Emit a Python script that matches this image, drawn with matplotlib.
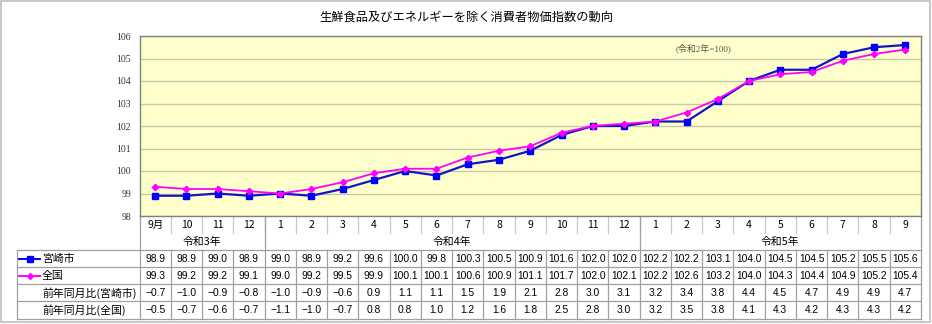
import matplotlib
matplotlib.use("Agg")
import matplotlib.pyplot as plt
from matplotlib.transforms import blended_transform_factory
from matplotlib.lines import Line2D
from matplotlib.patches import Rectangle

# ---------------- data ----------------
months = ['9月', '10', '11', '12',
          '1', '2', '3', '4', '5', '6', '7', '8', '9', '10', '11', '12',
          '1', '2', '3', '4', '5', '6', '7', '8', '9']
years = ['令和3年', '令和4年', '令和5年']
year_counts = [4, 12, 9]
miyazaki = [98.9, 98.9, 99.0, 98.9,
            99.0, 98.9, 99.2, 99.6, 100.0, 99.8, 100.3, 100.5, 100.9, 101.6, 102.0, 102.0,
            102.2, 102.2, 103.1, 104.0, 104.5, 104.5, 105.2, 105.5, 105.6]
national = [99.3, 99.2, 99.2, 99.1,
            99.0, 99.2, 99.5, 99.9, 100.1, 100.1, 100.6, 100.9, 101.1, 101.7, 102.0, 102.1,
            102.2, 102.6, 103.2, 104.0, 104.3, 104.4, 104.9, 105.2, 105.4]
yoy_miyazaki = [-0.7, -1.0, -0.9, -0.8,
                -1.0, -0.9, -0.6, 0.9, 1.1, 1.1, 1.5, 1.9, 2.1, 2.8, 3.0, 3.1,
                3.2, 3.4, 3.8, 4.4, 4.5, 4.7, 4.9, 4.9, 4.7]
yoy_national = [-0.5, -0.7, -0.6, -0.7,
                -1.1, -1.0, -0.7, 0.8, 0.8, 1.0, 1.2, 1.6, 1.8, 2.5, 2.8, 3.0,
                3.2, 3.5, 3.8, 4.1, 4.3, 4.2, 4.3, 4.3, 4.2]
series_names = ['宮崎市', '全国']
row_labels = ['前年同月比(宮崎市)', '前年同月比(全国)']
yticks = [98, 99, 100, 101, 102, 103, 104, 105, 106]
title = '生鮮食品及びエネルギーを除く消費者物価指数の動向'
note = '(令和2年=100)'

# ---------------- style ----------------
W, H = 932, 324
CJK = ['Noto Sans CJK JP', 'DejaVu Sans']
NUM = ['Liberation Sans', 'Noto Sans CJK JP']
SERIF = ['Liberation Serif', 'Noto Sans CJK JP']
BLUE_L, BLUE_M = '#1414C8', '#0000FF'
MAG = '#FF00FF'
GRID_C = '#A0A0A0'

fig = plt.figure(figsize=(W / 100, H / 100), dpi=100)
fig.patch.set_facecolor('white')

# overlay axes in pixel coordinates
ov = fig.add_axes([0, 0, 1, 1], zorder=0)
ov.set_xlim(0, W)
ov.set_ylim(H, 0)
ov.axis('off')

L, R, T, B = 139.5, 921, 36, 216
ax = fig.add_axes([L / W, 1 - B / H, (R - L) / W, (B - T) / H], zorder=2)
ax.set_facecolor('#FFFFCC')
n = len(months)
x = list(range(n))
ax.plot(x, miyazaki, color=BLUE_L, lw=1.6, marker='s', ms=4.8,
        mfc=BLUE_M, mec=BLUE_M, zorder=3)
ax.plot(x, national, color=MAG, lw=1.3, marker='D', ms=3.2,
        mfc=MAG, mec=MAG, zorder=4)
ax.set_xlim(-0.5, n - 0.5)
ax.set_ylim(98, 106)
ax.set_yticks(yticks)
ax.set_yticklabels([str(v) for v in yticks], fontfamily=SERIF, fontsize=7,
                   color='#333333')
ax.tick_params(axis='y', length=0, pad=6)
ax.set_xticks([])
ax.grid(axis='y', color='#C8C8A8', lw=1.0)
ax.set_axisbelow(True)
for s in ax.spines.values():
    s.set_color('#808080')
    s.set_linewidth(1.0)
ax.text(0.722, 0.93, note, transform=ax.transAxes, ha='center', va='center',
        fontsize=6.5, family=SERIF, color='#555555')

fig.text(466 / W, 1 - 17 / H, title, ha='center', va='center',
         fontsize=8.8, family=CJK, color='black')

# outer frame
ov.add_patch(Rectangle((1, 1), 929, 321, fill=False, ec='#BDBDBD', lw=1.2))

# table with x in category coords, y in pixels
tr = blended_transform_factory(ax.transData, ov.transData)
y_month = (216, 233)
y_year = (233, 250)
rows_y = [250, 267, 284, 301, 318.5]
TL = 17

def hline(y, x0, x1, color=GRID_C, lw=0.9):
    ov.add_line(Line2D([x0, x1], [y, y], color=color, lw=lw))

# month row separators
for i in range(1, n):
    ov.add_line(Line2D([i - 0.5, i - 0.5], [y_month[0], y_month[1]],
                       transform=tr, color='#C8C8C8', lw=0.9))
# year group boundaries
b = -0.5
bounds = [b]
for c in year_counts:
    b += c
    bounds.append(b)
for bx in bounds:
    ov.add_line(Line2D([bx, bx], [216, rows_y[0]], transform=tr,
                       color=GRID_C, lw=0.9))
# data rows grid
for yy in rows_y:
    hline(yy, TL, R)
for i in range(n + 1):
    ov.add_line(Line2D([i - 0.5, i - 0.5], [rows_y[0], rows_y[-1]],
                       transform=tr, color=GRID_C, lw=0.9))
ov.add_line(Line2D([TL, TL], [rows_y[0], rows_y[-1]], color=GRID_C, lw=0.9))

# month labels
for i, m in enumerate(months):
    ov.text(i, sum(y_month) / 2, m, transform=tr, ha='center', va='center',
            fontsize=7.5, family=CJK)
# year labels
start = 0
for yl, c in zip(years, year_counts):
    ov.text(start + (c - 1) / 2, sum(y_year) / 2 + 0.5, yl, transform=tr,
            ha='center', va='center', fontsize=7.8, family=CJK)
    start += c

def fmt(v):
    s = f'{v:.1f}'
    return s.replace('-', '\u2212')

table_rows = [miyazaki, national, yoy_miyazaki, yoy_national]
for r, vals in enumerate(table_rows):
    yc = (rows_y[r] + rows_y[r + 1]) / 2
    for i, v in enumerate(vals):
        ov.text(i, yc + 0.5, fmt(v), transform=tr, ha='center', va='center',
                fontsize=7.4, family=NUM)

# row labels with legend keys
for r, (name, col, mk, ms) in enumerate(zip(series_names, [BLUE_M, MAG],
                                             ['s', 'D'], [4.0, 3.0])):
    yc = (rows_y[r] + rows_y[r + 1]) / 2
    ov.add_line(Line2D([19, 40], [yc, yc], color=col, lw=1.4))
    ov.add_line(Line2D([29.5], [yc], color=col, marker=mk, ms=ms,
                       mfc=col, mec=col))
    ov.text(42, yc + 0.5, name, ha='left', va='center', fontsize=7.8, family=CJK)
for k, lab in enumerate(row_labels):
    r = k + 2
    yc = (rows_y[r] + rows_y[r + 1]) / 2
    ov.text(42, yc + 0.5, lab, ha='left', va='center', fontsize=7.8, family=CJK)

fig.savefig('out.png', dpi=100)
